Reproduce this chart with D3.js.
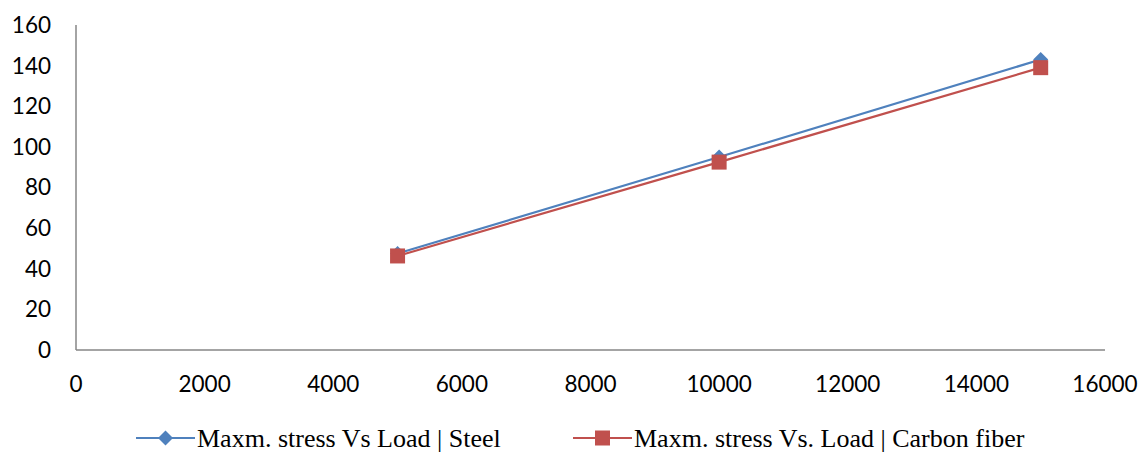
<!DOCTYPE html>
<html><head><meta charset="utf-8">
<script src="https://cdn.jsdelivr.net/npm/d3@7"></script>
<style>body{margin:0;background:#fff}</style>
</head><body>
<svg id="c" width="1147" height="452"></svg>
<script>
const loads = [5000, 10000, 15000];
const steel = [47.5, 95, 143];
const carbon = [46.3, 92.5, 139];
const xTicks = [0,2000,4000,6000,8000,10000,12000,14000,16000];
const yTicks = [0,20,40,60,80,100,120,140,160];
const seriesNames = ["Maxm. stress Vs Load | Steel", "Maxm. stress Vs. Load | Carbon fiber"];
const colors = ["#4F81BD", "#C0504D"];

const svg = d3.select("#c");
const x = d3.scaleLinear().domain([0,16000]).range([76,1105]);
const y = d3.scaleLinear().domain([0,160]).range([350,25]);
const axisColor = "#868686";

svg.append("line").attr("x1",x(0)).attr("x2",x(0)).attr("y1",y(160)).attr("y2",y(0)).attr("stroke",axisColor).attr("stroke-width",1.5);
svg.append("line").attr("x1",x(0)).attr("x2",x(16000)).attr("y1",y(0)).attr("y2",y(0)).attr("stroke",axisColor).attr("stroke-width",1.5);

const font = "Lato, 'Open Sans', sans-serif";
svg.selectAll(".yt").data(yTicks).enter().append("text")
  .attr("x",51).attr("y",d=>y(d)).attr("dy","0.35em").attr("text-anchor","end")
  .attr("font-family",font).attr("font-size",22.5).attr("fill","#000").text(d=>d);
svg.selectAll(".xt").data(xTicks).enter().append("text")
  .attr("x",d=>x(d)).attr("y",384).attr("dy","0.35em").attr("text-anchor","middle")
  .attr("font-family",font).attr("font-size",22.5).attr("fill","#000").text(d=>d);

const line = d3.line().x(d=>x(d[0])).y(d=>y(d[1]));
const data = [steel, carbon].map(s=>loads.map((l,i)=>[l,s[i]]));

data.forEach((pts,k)=>{
  svg.append("path").attr("d",line(pts)).attr("fill","none").attr("stroke",colors[k]).attr("stroke-width",2.2);
});
function marker(g, k, cx, cy){
  if(k===0){
    g.append("path").attr("d",`M${cx},${cy-7.5}L${cx+7.5},${cy}L${cx},${cy+7.5}L${cx-7.5},${cy}Z`).attr("fill",colors[0]);
  } else {
    g.append("rect").attr("x",cx-7.5).attr("y",cy-7.5).attr("width",15).attr("height",15).attr("fill",colors[1]);
  }
}
data.forEach((pts,k)=>{
  pts.forEach(p=>marker(svg,k,x(p[0]),y(p[1])));
});

const legX = [136, 573];
seriesNames.forEach((n,k)=>{
  const ly = 438;
  svg.append("line").attr("x1",legX[k]).attr("x2",legX[k]+59).attr("y1",ly).attr("y2",ly).attr("stroke",colors[k]).attr("stroke-width",2.2);
  marker(svg,k,legX[k]+29.5,ly);
  svg.append("text").attr("x",legX[k]+61).attr("y",ly).attr("dy","0.35em")
    .attr("font-family","'Liberation Serif', 'Times New Roman', serif").attr("font-size",26).attr("fill","#000").text(n);
});
</script>
</body></html>
